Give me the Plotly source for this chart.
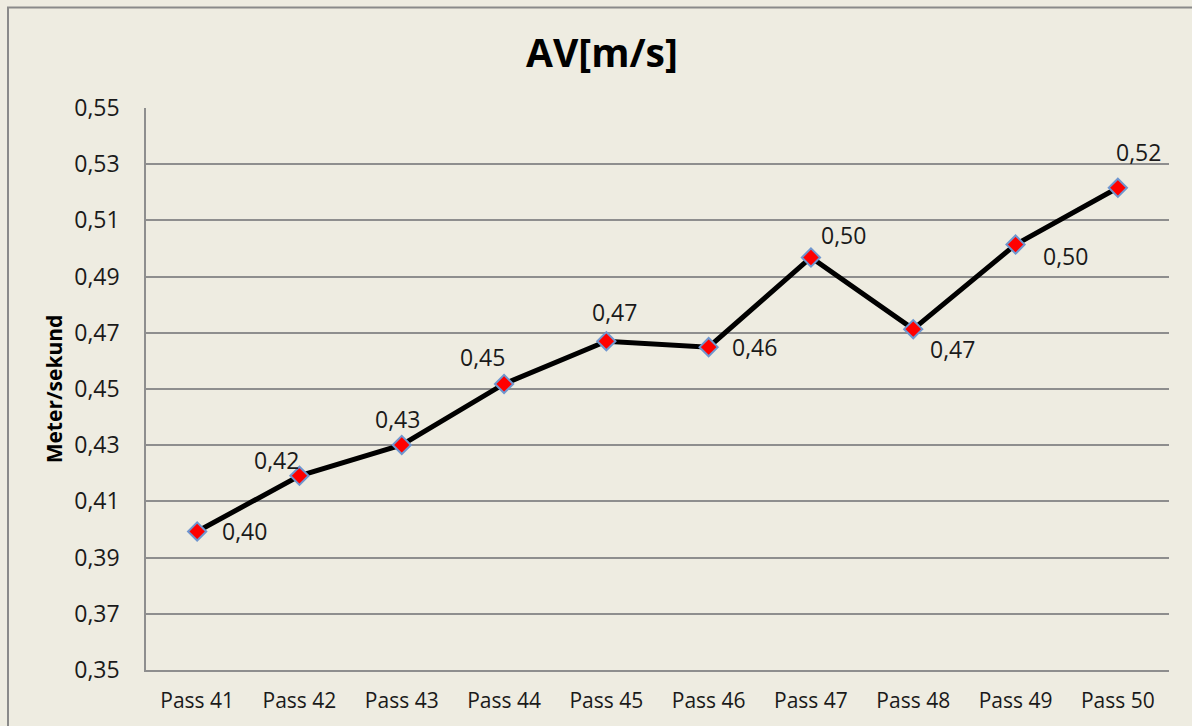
import plotly.graph_objects as go

# Average velocity per pass
passes = ["Pass 41", "Pass 42", "Pass 43", "Pass 44", "Pass 45",
          "Pass 46", "Pass 47", "Pass 48", "Pass 49", "Pass 50"]
velocity = [0.3993, 0.4191, 0.4301, 0.4518, 0.4670,
            0.4649, 0.4968, 0.4713, 0.5014, 0.5216]

y_ticks = [0.35, 0.37, 0.39, 0.41, 0.43, 0.45, 0.47, 0.49, 0.51, 0.53, 0.55]

# Pixel offsets of each value label relative to its point
label_dx = [47, -23, -4, -22, 8, 46, 33, 39, 50, 21]
label_dy = [0, 16, 26, 27, 29, 0, 22, -20, -11, 36]

BG = "#EEECE1"
GRID = "#8E8E8E"
FONT = "Open Sans, Noto Sans, DejaVu Sans, sans-serif"

fig = go.Figure()
fig.add_trace(go.Scatter(
    x=passes, y=velocity, mode="lines+markers",
    line=dict(color="#000000", width=5),
    marker=dict(symbol="diamond", size=14, color="#FF0000",
                line=dict(color="#6F96CF", width=2)),
    hoverinfo="skip", showlegend=False,
))

for p, v, dx, dy in zip(passes, velocity, label_dx, label_dy):
    fig.add_annotation(
        x=p, y=v, text=f"{v:.2f}".replace(".", ","), showarrow=False,
        xshift=dx, yshift=dy, font=dict(family=FONT, size=23, color="#1a1a1a"),
    )

# Outer chart frame
fig.add_shape(type="rect", xref="paper", yref="paper",
              x0=-0.1349, x1=1.05, y0=-0.12, y1=1.179,
              line=dict(color="#8A8A8A", width=2), fillcolor="rgba(0,0,0,0)",
              layer="below")

fig.update_layout(
    width=1192, height=726,
    margin=dict(l=146, r=23, t=108, b=54),
    paper_bgcolor=BG, plot_bgcolor=BG,
    separators=", ",
    font=dict(family=FONT, size=21, color="#1a1a1a"),
    title=dict(text="<b>AV[m/s]</b>", x=0.505, xref="container", xanchor="center",
               y=1 - 53 / 726, yref="container", yanchor="middle",
               font=dict(family=FONT, size=39, color="#000000")),
    xaxis=dict(
        range=[-0.5, 9.5],
        showgrid=False, showline=True, linecolor=GRID, linewidth=1.5,
        ticks="", ticklabelstandoff=11, tickfont=dict(size=21),
        fixedrange=True,
    ),
    yaxis=dict(
        range=[0.35, 0.55], tickvals=y_ticks, tickformat=".2f",
        showgrid=True, gridcolor=GRID, gridwidth=1.5,
        showline=True, linecolor=GRID, linewidth=1.5,
        ticks="", ticklabelstandoff=20, tickfont=dict(size=23),
        zeroline=False,
        title=dict(text="<b>Meter/sekund</b>", standoff=6,
                   font=dict(family=FONT, size=21, color="#000000")),
        fixedrange=True,
    ),
)

fig.write_html("out.html")
